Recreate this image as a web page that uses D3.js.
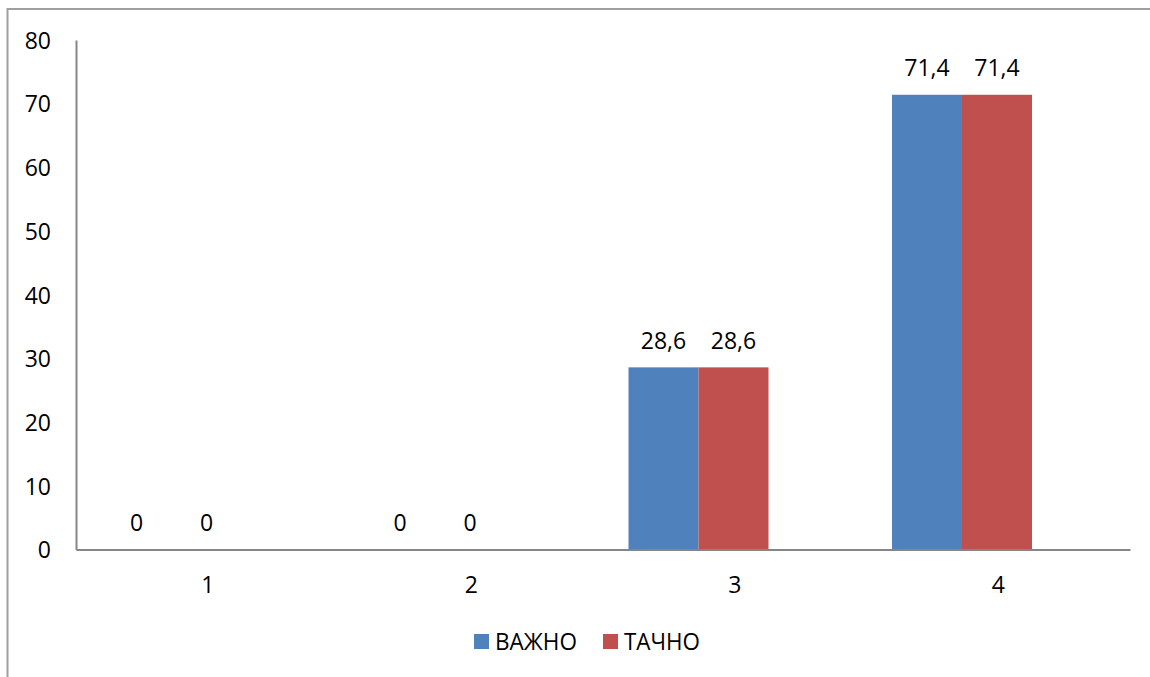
<!DOCTYPE html>
<html><head><meta charset="utf-8">
<script src="https://cdn.jsdelivr.net/npm/d3@7"></script>
<style>html,body{margin:0;padding:0;background:#fff;}svg{display:block;}</style>
</head><body>
<script>
const categories = ["1","2","3","4"];
const seriesNames = ["ВАЖНО","ТАЧНО"];
const vazhno = [0, 0, 28.6, 71.4];
const tachno = [0, 0, 28.6, 71.4];
const yTicks = [0,10,20,30,40,50,60,70,80];
const colors = ["#4F81BD","#C0504D"];

const W = 1150, H = 677;
const font = "'Open Sans', Lato, sans-serif";
const fs = 23;
const svg = d3.select("body").append("svg").attr("width", W).attr("height", H);

// outer frame
svg.append("rect").attr("x",7.5).attr("y",9).attr("width",W+20).attr("height",H+20)
  .attr("fill","none").attr("stroke","#a0a0a0").attr("stroke-width",2);

const plotL = 76, plotR = 1130, plotT = 40, plotB = 549.5;
const x = d3.scaleBand().domain(categories).range([plotL,plotR]).paddingInner(0).paddingOuter(0);
const y = d3.scaleLinear().domain([0,80]).range([plotB, plotT]);
const barW = 70, barOffset = 25.5;
const xs = d3.scaleBand().domain(seriesNames).range([barOffset, barOffset + barW*2]);

const data = categories.map((c,i)=>({c, vals:[vazhno[i], tachno[i]]}));

// bars
const g = svg.append("g");
data.forEach(d=>{
  d.vals.forEach((v,j)=>{
    const x0 = x(d.c) + xs(seriesNames[j]);
    g.append("rect").attr("x",x0).attr("y",y(v)).attr("width",xs.bandwidth()).attr("height",y(0)-y(v))
      .attr("fill",colors[j]);
    g.append("text").attr("x",x0+xs.bandwidth()/2).attr("y",y(v)-18.5).attr("text-anchor","middle")
      .attr("font-family",font).attr("font-size",fs).attr("fill","#000")
      .text(String(v).replace(".",","));
  });
});

// y axis
const yAxis = d3.axisLeft(y).tickValues(yTicks).tickSize(0).tickPadding(25);
const ya = svg.append("g").attr("transform",`translate(${plotL},0)`).call(yAxis);
ya.select(".domain").attr("stroke","#868686").attr("stroke-width",2);
ya.selectAll("text").attr("font-family",font).attr("font-size",fs).attr("fill","#000").attr("dy","0.36em");

// x axis
const xAxis = d3.axisBottom(x).tickSize(0).tickPadding(27);
const xa = svg.append("g").attr("transform",`translate(0,${plotB})`).call(xAxis);
xa.select(".domain").attr("stroke","#868686").attr("stroke-width",2);
xa.selectAll("text").attr("font-family",font).attr("font-size",fs).attr("fill","#000");

// legend
const legend = svg.append("g");
const lx = [474, 603];
const lw = [82, 76];
seriesNames.forEach((s,j)=>{
  legend.append("rect").attr("x",lx[j]).attr("y",634).attr("width",15).attr("height",15).attr("fill",colors[j]);
  legend.append("text").attr("x",lx[j]+21).attr("y",649.5).attr("font-family",font).attr("font-size",fs)
    .attr("textLength",lw[j]).attr("lengthAdjust","spacingAndGlyphs")
    .attr("fill","#000").text(s);
});
</script>
</body></html>
